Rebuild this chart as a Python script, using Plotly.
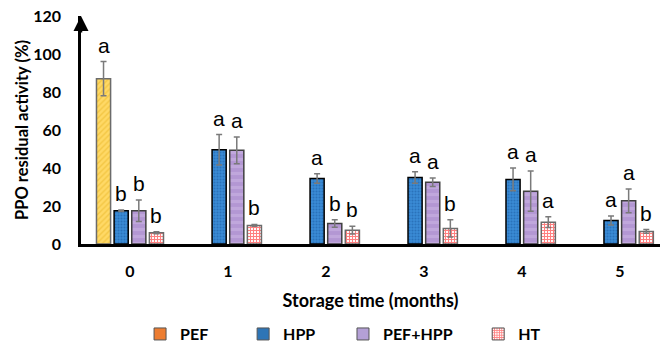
import plotly.graph_objects as go

categories = ["0", "1", "2", "3", "4", "5"]
series_names = ["PEF", "HPP", "PEF+HPP", "HT"]
pef = [87, None, None, None, None, None]
pef_err = [9, 0, 0, 0, 0, 0]
hpp = [17.5, 49.6, 34.5, 35, 34, 12.4]
hpp_err = [0.4, 8, 2.5, 3, 6, 2.4]
pefhpp = [17.5, 49.3, 10.8, 32.5, 27.8, 22.7]
pefhpp_err = [5.7, 7, 2, 2.3, 10.6, 6.3]
ht = [5.9, 9.8, 7.3, 8.2, 11.5, 6.6]
ht_err = [0.5, 0.5, 2, 4.5, 2.8, 1]
pef_lbl = ["a", "", "", "", "", ""]
hpp_lbl = ["b", "a", "a", "a", "a", "a"]
pefhpp_lbl = ["b", "a", "b", "a", "a", "a"]
ht_lbl = ["b", "b", "b", "b", "a", "b"]
y_ticks = [0, 20, 40, 60, 80, 100, 120]

values = [pef, hpp, pefhpp, ht]
errors = [pef_err, hpp_err, pefhpp_err, ht_err]
labels = [pef_lbl, hpp_lbl, pefhpp_lbl, ht_lbl]

patterns = [
    dict(shape="/", bgcolor="#FFD966", fgcolor="#E8B422", size=4, solidity=0.35),
    dict(shape=".", bgcolor="#3A8BD6", fgcolor="#1A5A9E", size=3, solidity=0.4),
    dict(shape="-", bgcolor="#B397D3", fgcolor="#CDB8E6", size=7, solidity=0.45),
    dict(shape="+", bgcolor="#FFFFFF", fgcolor="#FF0000", size=3, solidity=0.6),
]
outlines = ["#6b6b6b", "#000000", "#404040", "#6b6b6b"]
legend_colors = ["#ED7D31", "#2E75B6", "#B4A0D6", "#FFFFFF"]
legend_patterns = [None, None, None,
                   dict(shape="+", bgcolor="#FFFFFF", fgcolor="#FF0000", size=3, solidity=0.6)]
legend_x = [0.102, 0.280, 0.4525, 0.686]
legend_ids = ["legend", "legend2", "legend3", "legend4"]

bargap = 0.28
fig = go.Figure()
for k in range(4):
    fig.add_trace(go.Bar(
        x=categories, y=values[k], name=series_names[k], showlegend=False,
        marker=dict(color=patterns[k]["bgcolor"], pattern=patterns[k],
                    line=dict(color=outlines[k], width=1.5)),
        error_y=dict(type="data", array=errors[k], color="#7a7a7a", thickness=1.5, width=3),
    ))
    fig.add_trace(go.Bar(
        x=[None], y=[None], name=series_names[k], xaxis="x2", yaxis="y2",
        legend=legend_ids[k], showlegend=True,
        marker=dict(color=legend_colors[k], pattern=legend_patterns[k] or dict(shape=""),
                    line=dict(color="#555555", width=1)),
    ))

slot = (1 - bargap) / 4
annotations = []
for k in range(4):
    for i, c in enumerate(categories):
        v = values[k][i]
        if v is None or not labels[k][i]:
            continue
        annotations.append(dict(
            x=i + (k - 1.5) * slot, y=v + errors[k][i], xref="x", yref="y",
            text=labels[k][i], showarrow=False, yanchor="bottom", yshift=3,
            font=dict(family="Liberation Sans, Arial", size=21, color="#000000"),
        ))
# arrow on top of y axis
annotations.append(dict(x=0, y=1.0, xref="paper", yref="paper", ax=0, ay=18,
                        showarrow=True, arrowhead=2, arrowsize=1.2, arrowwidth=2.5,
                        arrowcolor="#000000", text=""))

def bold(size):
    return dict(family="Lato, Open Sans, sans-serif", size=size, color="#000000", weight="bold")

layout_legends = {}
for k in range(4):
    layout_legends[legend_ids[k]] = dict(
        orientation="h", x=legend_x[k], xanchor="left", y=-0.395, yanchor="middle",
        font=bold(16), itemwidth=30, bgcolor="rgba(0,0,0,0)")

fig.update_layout(
    width=662, height=346,
    margin=dict(l=81, r=2, t=16, b=102, autoexpand=False),
    paper_bgcolor="white", plot_bgcolor="white",
    barmode="group", bargap=bargap, bargroupgap=0.2,
    xaxis=dict(type="category", range=[-0.5, 5.41], showline=True, linecolor="#000000",
               linewidth=3, ticks="", tickfont=bold(16), ticklabelstandoff=11,
               title=dict(text="Storage time (months)", font=bold(18), standoff=16),
               showgrid=False, zeroline=False),
    yaxis=dict(range=[0, 120], tickvals=y_ticks, showline=True, linecolor="#000000",
               linewidth=2.5, ticks="", tickfont=bold(16), ticklabelstandoff=14,
               title=dict(text="PPO residual activity (%)", font=bold(16.5), standoff=1),
               showgrid=False, zeroline=False),
    xaxis2=dict(overlaying="x", visible=False),
    yaxis2=dict(overlaying="y", visible=False, range=[0, 1]),
    showlegend=True,
    annotations=annotations,
    **layout_legends,
)
fig.write_html("out.html")
